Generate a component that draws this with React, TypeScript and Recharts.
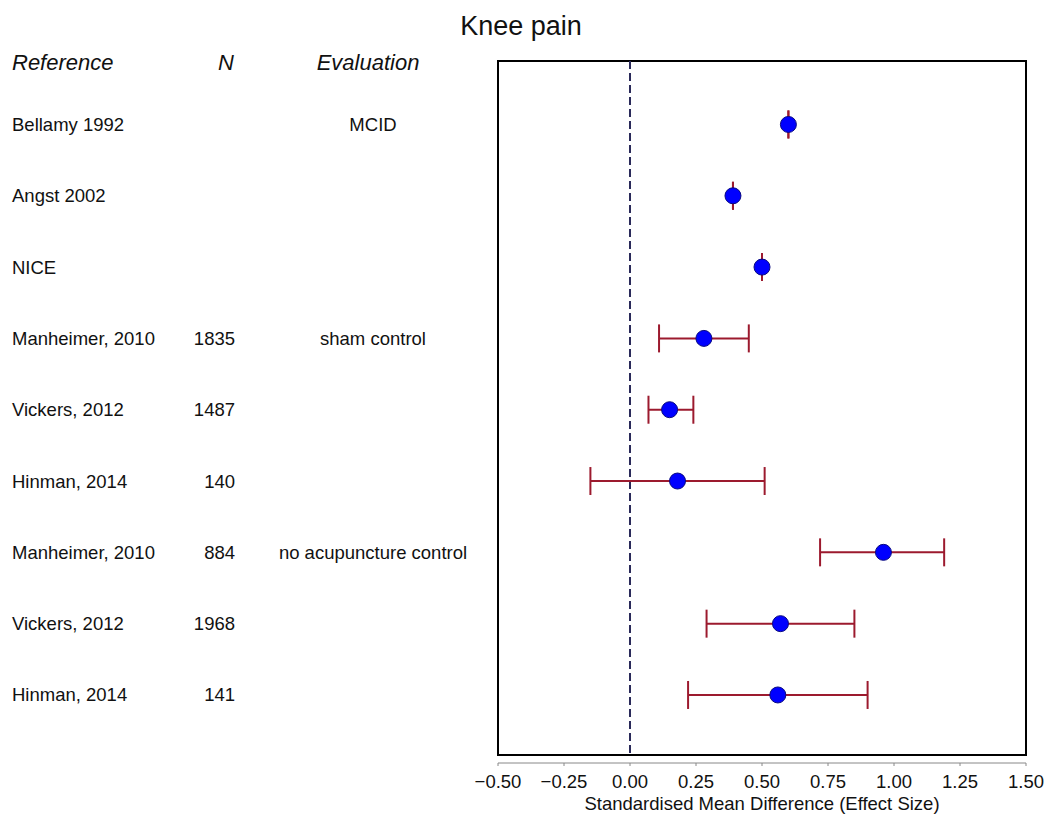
import { ScatterChart, Scatter, XAxis, YAxis, ErrorBar, ReferenceLine, ReferenceArea } from 'recharts'

// table columns (left side)
const references = [
  'Bellamy 1992',
  'Angst 2002',
  'NICE',
  'Manheimer, 2010',
  'Vickers, 2012',
  'Hinman, 2014',
  'Manheimer, 2010',
  'Vickers, 2012',
  'Hinman, 2014',
]
const sampleSizes = ['', '', '', '1835', '1487', '140', '884', '1968', '141']
const evaluations = ['MCID', '', '', 'sham control', '', '', 'no acupuncture control', '', '']

// effect sizes and confidence limits
const smd = [0.6, 0.39, 0.5, 0.28, 0.15, 0.18, 0.96, 0.57, 0.56]
const lower = [0.6, 0.39, 0.5, 0.11, 0.07, -0.15, 0.72, 0.29, 0.22]
const upper = [0.6, 0.39, 0.5, 0.45, 0.24, 0.51, 1.19, 0.85, 0.9]

const xTicks = [-0.5, -0.25, 0, 0.25, 0.5, 0.75, 1, 1.25, 1.5]
const rowTicks = [1, 2, 3, 4, 5, 6, 7, 8, 9]

const FONT = '"Liberation Sans", Arial, Helvetica, sans-serif'
const BAR_COLOR = '#9c1a2e'

const data = smd.map((v, i) => ({
  row: i + 1,
  smd: v,
  ci: [v - lower[i], upper[i] - v],
}))

const fmt = (v: number) => (v < 0 ? '\u2212' + Math.abs(v).toFixed(2) : v.toFixed(2))

const RowTick = ({ y, payload }: any) => {
  const i = payload.value - 1
  return (
    <g fontFamily={FONT} fontSize={18.5} fill="#111">
      <text x={12} y={y} dy="0.35em" textAnchor="start" fill="#111">{references[i]}</text>
      <text x={235} y={y} dy="0.35em" textAnchor="end" fill="#111">{sampleSizes[i]}</text>
      <text x={373} y={y} dy="0.35em" textAnchor="middle" fill="#111">{evaluations[i]}</text>
    </g>
  )
}

const Dot = (props: any) => (
  <circle cx={props.cx} cy={props.cy} r={8} fill="#0000ff" stroke="#0a0a80" strokeWidth={1} />
)

export default function App() {
  return (
    <div style={{ position: 'absolute', left: 0, top: 0, width: 1046, height: 814, background: '#fff', fontFamily: FONT }}>
      <div style={{ position: 'absolute', left: 0, width: 1042, top: 11, textAlign: 'center', fontSize: 27, color: '#111' }}>
        Knee pain
      </div>
      <div style={{ position: 'absolute', left: 12, top: 50, fontSize: 22, fontStyle: 'italic', color: '#111' }}>Reference</div>
      <div style={{ position: 'absolute', right: 1046 - 234, top: 50, fontSize: 22, fontStyle: 'italic', color: '#111' }}>N</div>
      <div style={{ position: 'absolute', left: 268, width: 200, top: 50, textAlign: 'center', fontSize: 22, fontStyle: 'italic', color: '#111' }}>Evaluation</div>
      <ScatterChart width={1046} height={814} margin={{ top: 61, right: 20, bottom: 0, left: 0 }}>
        <XAxis
          type="number"
          dataKey="smd"
          domain={[-0.5, 1.5]}
          ticks={xTicks}
          tickFormatter={fmt}
          interval={0}
          height={51}
          stroke="#888"
          tickSize={3}
          tickMargin={9}
          tick={{ fill: '#111', fontSize: 18.5, fontFamily: FONT }}
          label={{ value: 'Standardised Mean Difference (Effect Size)', position: 'insideBottom', offset: 4, fill: '#111', fontSize: 18.5, fontFamily: FONT }}
        />
        <YAxis
          type="number"
          dataKey="row"
          domain={[0.11, 9.954]}
          reversed
          ticks={rowTicks}
          interval={0}
          width={498}
          axisLine={false}
          tickLine={false}
          tick={<RowTick />}
        />
        <ReferenceArea x1={-0.5} x2={1.5} y1={0.11} y2={9.842} fill="none" fillOpacity={0} stroke="#000" strokeWidth={2} ifOverflow="visible" />
        <ReferenceLine
          segment={[{ x: 0, y: 0.11 }, { x: 0, y: 9.842 }]}
          stroke="#2a2a5a"
          strokeWidth={2}
          strokeDasharray="8 4"
        />
        <Scatter data={data} shape={<Dot />} isAnimationActive={false}>
          <ErrorBar dataKey="ci" direction="x" width={14} stroke={BAR_COLOR} strokeWidth={2} />
        </Scatter>
      </ScatterChart>
    </div>
  )
}
